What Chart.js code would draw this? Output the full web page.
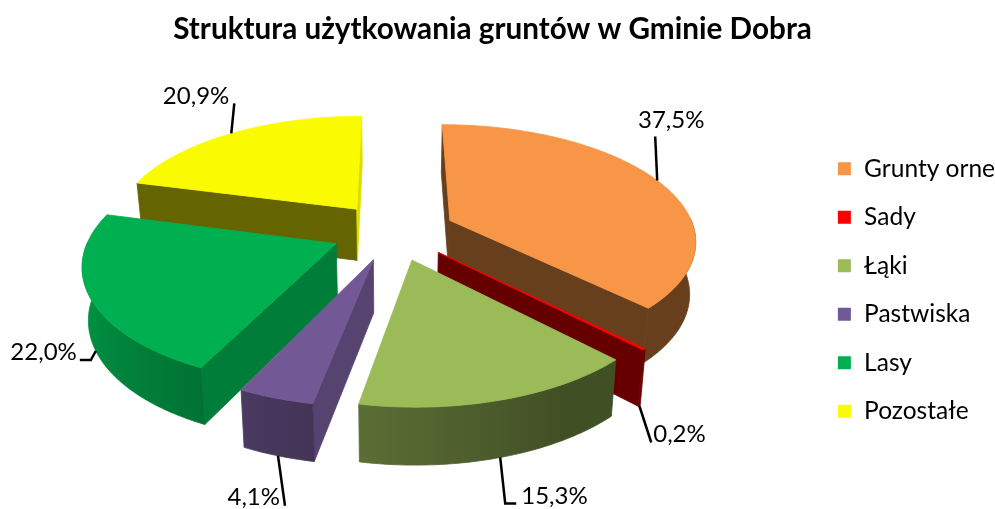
<!DOCTYPE html>
<html>
<head>
<meta charset="utf-8">
<style>
    html, body { margin: 0; padding: 0; background: #fff; }
    #wrap { width: 995px; height: 509px; }
</style>
<script src="https://cdn.jsdelivr.net/npm/chart.js@4/dist/chart.umd.min.js"></script>
</head>
<body>
<div id="wrap"><canvas id="pie"></canvas></div>
<script>
// chart data
const categories = ["Grunty orne", "Sady", "Łąki", "Pastwiska", "Lasy", "Pozostałe"];
const shares = [37.5, 0.2, 15.3, 4.1, 22.0, 20.9];
const colors = ["#F79646", "#FF0000", "#9BBB59", "#725894", "#00B050", "#FBFB00"];

// 3d look, the pie is projected by hand since chart.js only draws flat arcs
const shiftX = -8, shiftY = -53;   // from chart area center
const squash = 0.465, perspective = 0.157, depth = 52;
const faceShades = [[.42, .42], [.4, .4], [.42, .42], [.76, .6], [.71, .6], [.4, .88]];

// leader lines relative to the anchor on the slice, then text offset from last point
const leaders = [
    {path: [[-2, -44]], text: [16, -16], align: "center"},
    {path: [[12, 37]], text: [2, -8], align: "left"},
    {path: [[5, 46], [16, 46]], text: [5, -7], align: "left"},
    {path: [[7, 50]], text: [-5, -9], align: "right"},
    {path: [[-5, 9], [-16, 9]], text: [-3, -8], align: "right"},
    {path: [[3, -30]], text: [-5, -7], align: "right"},
];

function shade(hex, f) {
    const n = parseInt(hex.slice(1), 16);
    const r = Math.round((n >> 16 & 255) * f), g = Math.round((n >> 8 & 255) * f), b = Math.round((n & 255) * f);
    return `rgb(${r},${g},${b})`;
}

// wall brightness, lighter towards the left side of the pie
function wallLight(a) {
    const clock = ((a + Math.PI / 2) * 180 / Math.PI + 360) % 360;
    return 0.42 + Math.min(1, Math.max(0, (clock - 150) / 110)) * 0.46;
}

const pie3d = {
    id: "pie3d",
    afterLayout(chart) {
        // nudge legend and title to where the original has them
        chart.legend.left += 10;
        chart.legend.right += 10;
        chart.legend.top += 35.5;
        chart.legend.bottom += 35.5;
        chart.titleBlock.left -= 5;
        chart.titleBlock.right -= 5;
    },
    beforeDatasetsDraw(chart) {
        const ctx = chart.ctx;
        const arcs = chart.getDatasetMeta(0).data;
        const cx = arcs[0].x + shiftX, cy = arcs[0].y + shiftY;
        const R = arcs[0].outerRadius;

        const project = (u, v, low) => {
            const s = 1 / (1 - perspective * v / R);
            const x = u * s, y = v * squash * s;
            if (!low) return [cx + x, cy + y];
            return [cx + x * 0.98, cy + y + depth * Math.sqrt(s)];
        };

        const slices = arcs.map((arc, i) => {
            const mid = (arc.startAngle + arc.endAngle) / 2;
            const ox = Math.cos(mid) * arc.options.offset, oy = Math.sin(mid) * arc.options.offset;
            const at = (a, r) => [ox + Math.cos(a) * r, oy + Math.sin(a) * r];
            return {i, arc, mid, at, order: Math.sin(mid)};
        }).sort((a, b) => a.order - b.order);

        const poly = (pts, fill) => {
            ctx.beginPath();
            pts.forEach((p, n) => n ? ctx.lineTo(p[0], p[1]) : ctx.moveTo(p[0], p[1]));
            ctx.closePath();
            ctx.fillStyle = fill;
            ctx.strokeStyle = fill;
            ctx.lineWidth = 0.8;
            ctx.fill();
            ctx.stroke();
        };

        slices.forEach(({i, arc, at}) => {
            const base = colors[i];
            const {startAngle, endAngle} = arc;
            const steps = Math.max(2, Math.ceil((endAngle - startAngle) * 180 / Math.PI));
            const rim = [];
            for (let n = 0; n <= steps; n++) {
                const a = startAngle + (endAngle - startAngle) * n / steps;
                rim.push({a, p: at(a, R)});
            }
            const apex = at(0, 0);
            const first = rim[0].p, last = rim[steps].p;

            // cut faces, only those turned towards the viewer
            if (Math.cos(startAngle) <= 0.01) {
                poly([project(...apex), project(...first), project(...first, true), project(...apex, true)], shade(base, faceShades[i][0]));
            }
            if (Math.cos(endAngle) >= -0.01) {
                poly([project(...apex), project(...last), project(...last, true), project(...apex, true)], shade(base, faceShades[i][1]));
            }

            // outer wall, front part only
            const front = rim.filter(r => Math.sin(r.a) > -0.02);
            if (front.length > 1) {
                const top = front.map(r => project(...r.p));
                const low = front.map(r => project(...r.p, true)).reverse();
                const xs = top.map(p => p[0]);
                const x0 = Math.min(...xs), x1 = Math.max(...xs);
                const grad = ctx.createLinearGradient(x0, 0, x1, 0);
                front.map((r, n) => ({pos: (xs[n] - x0) / (x1 - x0), a: r.a}))
                    .sort((m, k) => m.pos - k.pos)
                    .forEach(stop => grad.addColorStop(stop.pos, shade(base, wallLight(stop.a))));
                poly(top.concat(low), grad);
            }

            // top
            poly([project(...apex)].concat(rim.map(r => project(...r.p))), base);
        });

        // labels with leader lines
        ctx.font = "24px Lato";
        ctx.textBaseline = "middle";
        arcs.forEach((arc, i) => {
            const s = slices.find(el => el.i === i);
            const p = s.at(s.mid, R);
            const start = project(p[0], p[1], p[1] > 0);
            const line = leaders[i];
            ctx.beginPath();
            ctx.moveTo(start[0], start[1]);
            let end = start;
            line.path.forEach(d => {
                end = [start[0] + d[0], start[1] + d[1]];
                ctx.lineTo(end[0], end[1]);
            });
            ctx.strokeStyle = "#000";
            ctx.lineWidth = 2.5;
            ctx.stroke();
            ctx.fillStyle = "#000";
            ctx.textAlign = line.align;
            ctx.fillText(shares[i].toFixed(1).replace(".", ",") + "%", end[0] + line.text[0], end[1] + line.text[1]);
        });
        return false;
    },
};

new Chart(document.getElementById("pie").getContext("2d"), {
    type: "pie",
    data: {
        labels: categories,
        datasets: [{
            data: shares,
            backgroundColor: colors,
            offset: 62,
        }],
    },
    options: {
        responsive: true,
        maintainAspectRatio: false,
        animation: false,
        radius: 245,
        plugins: {
            title: {
                display: true,
                text: "Struktura użytkowania gruntów w Gminie Dobra",
                color: "#000",
                font: {family: "Lato", size: 29.7, weight: "bold"},
                padding: {top: 12, bottom: 12},
            },
            legend: {
                position: "right",
                labels: {
                    color: "#000",
                    font: {family: "Lato", size: 24.5},
                    boxWidth: 15,
                    boxHeight: 15,
                    padding: 24,
                },
            },
            tooltip: {enabled: false},
        },
    },
    plugins: [pie3d],
});
</script>
</body>
</html>
